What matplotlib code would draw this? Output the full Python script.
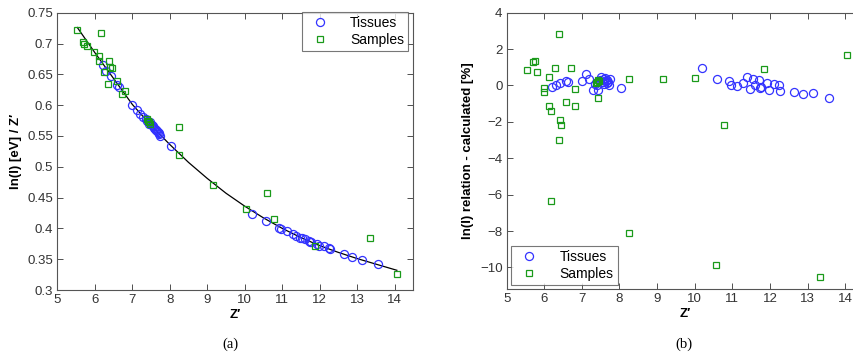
import matplotlib
matplotlib.use('Agg')
import matplotlib.pyplot as plt

plt.rcParams['font.family'] = ['Liberation Sans', 'DejaVu Sans']
plt.rcParams['font.size'] = 9

# tissues: Z', ln(I)/Z' (panel a), deviation in % (panel b)
tissue_z = [6.21, 6.30, 6.42, 6.58, 6.64, 6.99, 7.11, 7.20, 7.29, 7.35, 7.40, 7.44,
            7.48, 7.52, 7.55, 7.58, 7.60, 7.62, 7.64, 7.66, 7.68, 7.70, 7.72, 7.75,
            8.03, 10.20, 10.58, 10.92, 10.96, 11.12, 11.28, 11.38, 11.47, 11.54, 11.60,
            11.71, 11.74, 11.76, 11.92, 11.98, 12.11, 12.24, 12.27, 12.65, 12.87, 13.14, 13.57]
tissue_a = [0.665, 0.656, 0.648, 0.633, 0.629, 0.600, 0.592, 0.586, 0.580, 0.578, 0.574, 0.570,
            0.572, 0.568, 0.566, 0.563, 0.562, 0.560, 0.559, 0.558, 0.556, 0.555, 0.553, 0.550,
            0.533, 0.423, 0.412, 0.401, 0.399, 0.395, 0.391, 0.388, 0.384, 0.385, 0.383,
            0.380, 0.378, 0.378, 0.375, 0.372, 0.371, 0.368, 0.366, 0.358, 0.353, 0.349, 0.342]
tissue_b = [-0.07, 0.02, 0.16, 0.22, 0.19, 0.22, 0.62, 0.35, -0.25, 0.10, 0.05, -0.25,
            0.30, 0.45, 0.20, 0.35, 0.10, 0.40, 0.25, 0.15, 0.30, 0.20, 0.05, 0.35,
            -0.14, 0.95, 0.38, 0.26, 0.02, -0.03, 0.13, 0.47, -0.20, 0.35, 0.02,
            0.31, -0.14, -0.07, 0.13, -0.24, 0.08, 0.02, -0.29, -0.38, -0.47, -0.44, -0.66]

# samples, panel a
sample_z_a = [5.53, 5.67, 5.71, 5.79, 5.98, 6.15, 6.12, 6.11, 6.37, 6.40, 6.45, 6.25, 6.35,
              6.58, 6.71, 6.80, 7.38, 7.41, 7.44, 7.47, 8.25, 8.25, 9.15, 10.02, 10.59,
              10.78, 11.87, 13.33, 14.06]
sample_a = [0.722, 0.703, 0.699, 0.696, 0.687, 0.717, 0.679, 0.672, 0.672, 0.662, 0.660, 0.654,
            0.634, 0.639, 0.618, 0.623, 0.577, 0.574, 0.572, 0.569, 0.565, 0.519, 0.471, 0.432,
            0.458, 0.416, 0.372, 0.384, 0.326]

# samples, panel b
sample_z_b = [5.55, 5.71, 5.75, 5.81, 6.00, 6.00, 6.12, 6.13, 6.17, 6.19, 6.28, 6.38, 6.39,
              6.41, 6.44, 6.59, 6.72, 6.81, 6.83, 7.38, 7.41, 7.44, 7.45, 7.44, 8.24, 8.25,
              9.15, 10.01, 10.57, 10.77, 11.85, 13.33, 14.04]
sample_b = [0.84, 1.31, 1.35, 0.75, -0.14, -0.38, 0.46, -1.15, -6.34, -1.42, 0.98, -2.97, 2.81,
            -1.89, -2.15, -0.89, 0.95, -1.13, -0.22, 0.15, 0.20, 0.30, 0.25, -0.69, 0.33, -8.09,
            0.33, 0.40, -9.85, -2.16, 0.90, -10.52, 1.69]

# fitted relation
fit_z = [5.53, 6.0, 6.5, 7.0, 7.5, 8.0, 8.5, 9.0, 9.5, 10.0, 10.5, 11.0, 11.5, 12.0,
         12.5, 13.0, 13.5, 14.06]
fit_a = [0.726, 0.685, 0.643, 0.601, 0.567, 0.536, 0.507, 0.481, 0.457, 0.436, 0.417,
         0.400, 0.385, 0.372, 0.361, 0.351, 0.342, 0.332]

blue = '#3333ff'
green = '#1a9a1a'

fig = plt.figure(figsize=(8.54, 3.59), dpi=100)
ax1 = fig.add_axes([0.0673, 0.1922, 0.4167, 0.7724])
ax2 = fig.add_axes([0.5933, 0.1942, 0.4183, 0.7704])


def style(ax):
    ax.set_xlim(5, 14.5)
    ax.set_xticks(range(5, 15))
    ax.tick_params(direction='in', top=True, right=True, length=4, width=0.6,
                   colors='#333333', labelsize=9.5, pad=3)
    for s in ax.spines.values():
        s.set_linewidth(0.8)
        s.set_color('#555555')
    ax.set_xlabel('Z\u2032', fontweight='bold', fontsize=9.5, labelpad=2)


ax1.plot(fit_z, fit_a, color='black', lw=0.9)
ax1.plot(tissue_z, tissue_a, 'o', mfc='none', mec=blue, ms=5.8, mew=0.9, label='Tissues')
ax1.plot(sample_z_a, sample_a, 's', mfc='none', mec=green, ms=4.6, mew=0.9, label='Samples')
style(ax1)
ax1.set_ylim(0.3, 0.75)
ax1.set_yticks([0.3, 0.35, 0.4, 0.45, 0.5, 0.55, 0.6, 0.65, 0.7, 0.75])
ax1.set_yticklabels(['0.3', '0.35', '0.4', '0.45', '0.5', '0.55', '0.6', '0.65', '0.7', '0.75'])
ax1.set_ylabel('ln(I) [eV] / Z\u2032', fontweight='bold', fontsize=9.5, labelpad=4)
leg1 = ax1.legend(loc='upper right', bbox_to_anchor=(0.986, 1.002), borderaxespad=0,
                  fontsize=10, fancybox=False, edgecolor='#555555', handletextpad=1.2,
                  borderpad=0.3, labelspacing=0.2)
leg1.get_frame().set_linewidth(0.8)

ax2.plot(tissue_z, tissue_b, 'o', mfc='none', mec=blue, ms=5.8, mew=0.9, label='Tissues')
ax2.plot(sample_z_b, sample_b, 's', mfc='none', mec=green, ms=4.6, mew=0.9, label='Samples')
style(ax2)
ax2.set_ylim(-11.2, 4)
ax2.set_yticks(range(-10, 5, 2))
ax2.set_ylabel('ln(I) relation - calculated [%]', fontweight='bold', fontsize=9.5, labelpad=4)
leg2 = ax2.legend(loc='lower left', bbox_to_anchor=(0.012, 0.016), borderaxespad=0,
                  fontsize=10, fancybox=False, edgecolor='#555555', handletextpad=1.2,
                  borderpad=0.3, labelspacing=0.2)
leg2.get_frame().set_linewidth(0.8)

fig.text(230 / 854, 0.04, '(a)', ha='center', va='center', family='Liberation Serif', fontsize=10.5)
fig.text(684 / 854, 0.04, '(b)', ha='center', va='center', family='Liberation Serif', fontsize=10.5)

fig.savefig('out.png', dpi=100)
